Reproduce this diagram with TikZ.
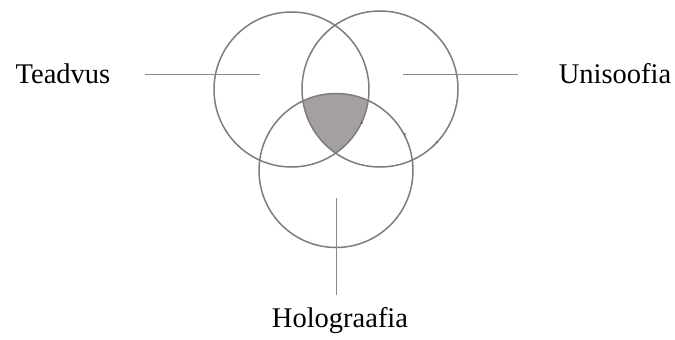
\documentclass[tikz,border=0pt]{standalone}
\usepackage{fontspec}
\setmainfont{Liberation Serif}
\begin{document}
\begin{tikzpicture}[x=1pt,y=-1pt,
  ring/.style={draw=ringgrey,line width=1.5pt},
  leader/.style={draw=linegrey,line width=1pt},
  lbl/.style={font=\fontsize{28.5}{31}\selectfont,text=black,inner sep=0pt},
  speck/.style={fill=black!75,draw=none}]
\definecolor{ringgrey}{HTML}{7E7C7E}
\definecolor{linegrey}{HTML}{8A8A8A}
\definecolor{fillgrey}{HTML}{A59EA3}
\useasboundingbox (0,0) rectangle (675,340);
\coordinate (cl) at (291.5,89.5);
\coordinate (cr) at (380,89);
\coordinate (cb) at (336,170.5);
% shaded triple intersection
\begin{scope}
  \clip (cl) circle[radius=77.5];
  \clip (cr) circle[radius=78];
  \fill[fillgrey] (cb) circle[radius=77];
\end{scope}
\draw[ring] (cl) circle[radius=77.5];
\draw[ring] (cr) circle[radius=78];
\draw[ring] (cb) circle[radius=77];
% labels
\node[lbl] (teadvus) at (63,74) {Teadvus};
\node[lbl] (unisoofia) at (615,74) {Unisoofia};
\node[lbl] (holo) at (340,321) {Holograafia};
% leader lines
\coordinate (tl1) at (145,74);
\coordinate (tl2) at (260,74);
\coordinate (ul1) at (403,74);
\coordinate (ul2) at (518,74);
\coordinate (hl1) at (336,198);
\coordinate (hl2) at (336,295);
\draw[leader] (tl1) -- (tl2);
\draw[leader] (ul1) -- (ul2);
\draw[leader] (hl1) -- (hl2);
% specks
\fill[speck] (362,123) circle[radius=0.9];
\fill[speck] (405,134) circle[radius=0.9];
\fill[speck] (437,142) circle[radius=0.9];
\end{tikzpicture}
\end{document}
